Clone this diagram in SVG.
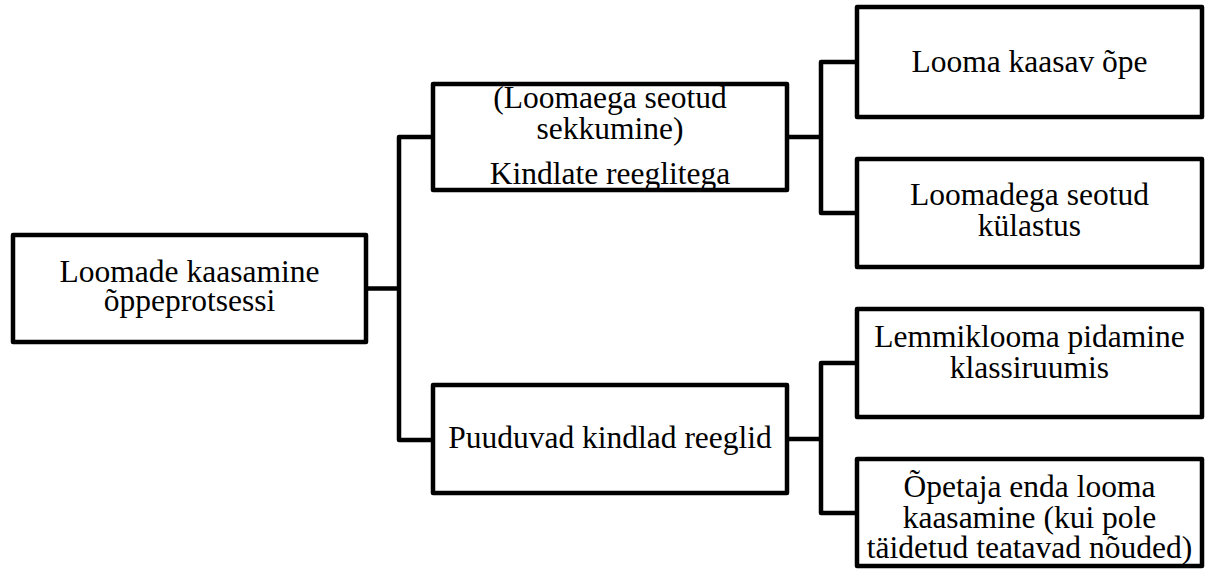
<svg xmlns="http://www.w3.org/2000/svg" width="1207" height="570" viewBox="0 0 1207 570">
<style>
.box{fill:#fff;stroke:#000;stroke-width:4.5;stroke-linejoin:round}
.con{fill:none;stroke:#000;stroke-width:4.5;stroke-linejoin:round}
text{font-family:"Liberation Serif","Times New Roman",serif;font-size:31.5px;fill:#000;text-anchor:middle}
</style>
<rect width="1207" height="570" fill="#fff"/>
<g id="connectors">
<path class="con" d="M366,288.5 H399 M433,137 H399 V440 H433"/>
<path class="con" d="M787,137 H821 M857,62 H821 V213 H857"/>
<path class="con" d="M787,439 H821 M857,363 H821 V513 H857"/>
</g>
<g id="root">
<rect class="box" x="13" y="235" width="353" height="107"/>
<text x="189.5" y="282">Loomade kaasamine</text>
<text x="189.5" y="311">õppeprotsessi</text>
</g>
<g id="rules">
<rect class="box" x="433" y="84" width="354" height="106"/>
<text x="610" y="108">(Loomaega seotud</text>
<text x="610" y="139">sekkumine)</text>
<text x="610" y="184">Kindlate reeglitega</text>
</g>
<g id="norules">
<rect class="box" x="433" y="385" width="354" height="108"/>
<text x="610" y="448">Puuduvad kindlad reeglid</text>
</g>
<g id="r1">
<rect class="box" x="857" y="7" width="345" height="110"/>
<text x="1029.5" y="72">Looma kaasav õpe</text>
</g>
<g id="r2">
<rect class="box" x="857" y="159" width="345" height="108"/>
<text x="1029.5" y="205">Loomadega seotud</text>
<text x="1029.5" y="236">külastus</text>
</g>
<g id="r3">
<rect class="box" x="857" y="309" width="345" height="108"/>
<text x="1029.5" y="347">Lemmiklooma pidamine</text>
<text x="1029.5" y="378">klassiruumis</text>
</g>
<g id="r4">
<rect class="box" x="857" y="459" width="345" height="107"/>
<text x="1029.5" y="497">Õpetaja enda looma</text>
<text x="1029.5" y="528">kaasamine (kui pole</text>
<text x="1029.5" y="558">täidetud teatavad nõuded)</text>
</g>
</svg>
